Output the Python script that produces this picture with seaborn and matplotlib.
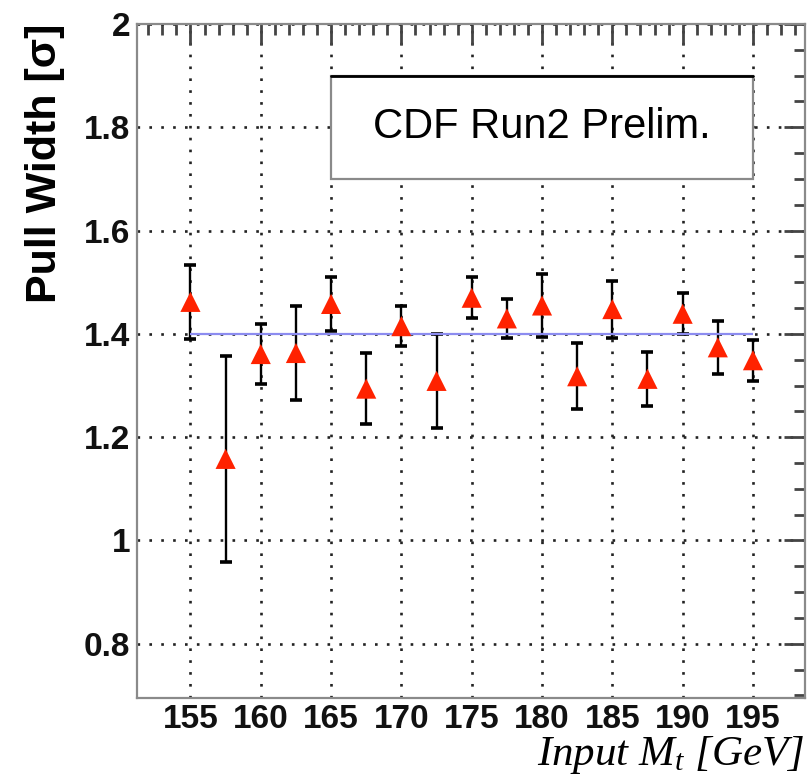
import numpy as np
import pandas as pd
import matplotlib
matplotlib.use('Agg')
import matplotlib.pyplot as plt
from matplotlib.ticker import MultipleLocator, FuncFormatter
from matplotlib.patches import Rectangle
import seaborn as sns

# Pull width vs input top mass
input_mass = [155, 157.5, 160, 162.5, 165, 167.5, 170, 172.5, 175,
              177.5, 180, 182.5, 185, 187.5, 190, 192.5, 195]
pull_width = [1.462, 1.158, 1.361, 1.363, 1.458, 1.294, 1.415, 1.309, 1.470,
              1.430, 1.455, 1.318, 1.448, 1.313, 1.439, 1.374, 1.349]
pull_err = [0.071, 0.199, 0.058, 0.091, 0.052, 0.069, 0.039, 0.091, 0.040,
            0.037, 0.061, 0.064, 0.055, 0.052, 0.040, 0.051, 0.040]
ref_width = 1.4
label_text = "CDF Run2 Prelim."

df = pd.DataFrame({'mass': input_mass, 'width': pull_width, 'err': pull_err})

sns.set_theme(style='white')
plt.rcParams['font.family'] = ['Liberation Sans', 'DejaVu Sans']
plt.rcParams['mathtext.fontset'] = 'custom'
plt.rcParams['mathtext.it'] = 'Liberation Serif:italic'
plt.rcParams['mathtext.rm'] = 'Liberation Serif'
plt.rcParams['text.color'] = 'black'
plt.rcParams['axes.labelcolor'] = 'black'
plt.rcParams['xtick.labelcolor'] = '#111111'
plt.rcParams['ytick.labelcolor'] = '#111111'

fig = plt.figure(figsize=(8.07, 7.77), dpi=100)
ax = fig.add_axes([137 / 807, 1 - 698 / 777, 668 / 807, 674 / 777])

# error bars, reference line, markers
ax.errorbar(df['mass'], df['width'], yerr=df['err'], fmt='none', ecolor='black',
            elinewidth=1.7, capsize=4.3, capthick=2.6, zorder=3)
ax.hlines(ref_width, df['mass'].min(), df['mass'].max(), color='#8c8cf0', lw=1.6, zorder=4)
sns.scatterplot(data=df, x='mass', y='width', marker='^', s=210, color='#ff2200',
                edgecolor='none', zorder=5, ax=ax, legend=False)

ax.set_xlim(151.2, 198.7)
ax.set_ylim(0.695, 2.0)
ax.xaxis.set_major_locator(MultipleLocator(5))
ax.xaxis.set_minor_locator(MultipleLocator(1))
ax.yaxis.set_major_locator(MultipleLocator(0.2))
ax.yaxis.set_minor_locator(MultipleLocator(0.05))
ax.yaxis.set_major_formatter(FuncFormatter(lambda v, p: '{:g}'.format(round(v, 2))))

ax.tick_params(which='both', direction='in', top=True, right=True,
               color='#444444', width=2)
ax.tick_params(which='major', length=15)
ax.tick_params(which='minor', length=8)
ax.tick_params(axis='x', labelsize=24, pad=4.5)
ax.tick_params(axis='y', labelsize=24, pad=5)
for lbl in ax.get_xticklabels() + ax.get_yticklabels():
    lbl.set_fontweight('bold')

ax.grid(True, which='major', color='#222222', linestyle=(0, (1, 3.5)), linewidth=1.9)
ax.set_axisbelow(True)
for s in ax.spines.values():
    s.set_color('#8a8a8a')
    s.set_linewidth(1.6)

# label box
box = Rectangle((165, 1.7), 30, 0.2, facecolor='white', edgecolor='#8a8a8a',
                lw=1.6, zorder=2)
ax.add_patch(box)
ax.plot([165, 195], [1.9, 1.9], color='black', lw=2, zorder=2)
ax.text(180, 1.8, label_text, ha='center', va='center', fontsize=30, zorder=3)

ax.set_xlabel("Input $M_t$ [GeV]", fontsize=31, fontfamily='Liberation Serif',
              fontstyle='italic', loc='right')
ax.xaxis.set_label_coords(1.0, -0.054)
ax.xaxis.label.set_va('top')
ax.set_ylabel("Pull Width [σ]", fontsize=31, fontweight='bold', loc='top')
ax.yaxis.set_label_coords(-0.108, 1.0)

fig.savefig('out.png', dpi=100)
